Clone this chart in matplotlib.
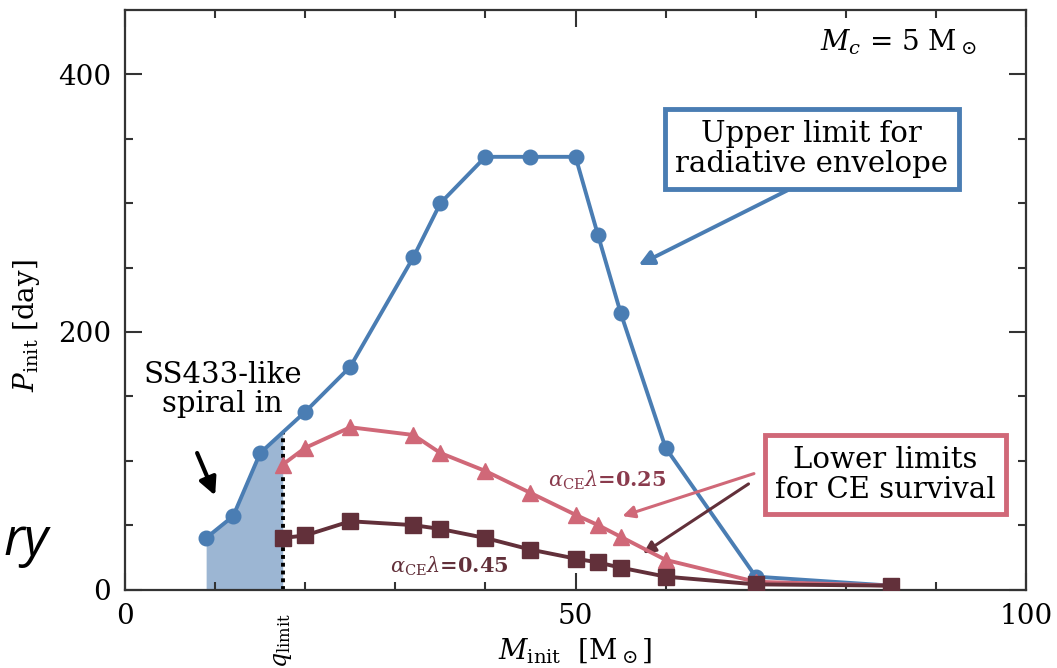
import numpy as np
import matplotlib.pyplot as plt
from matplotlib.transforms import blended_transform_factory

plt.rcParams['font.family'] = ['DejaVu Serif']
plt.rcParams['mathtext.fontset'] = 'dejavuserif'

# Upper limit for a radiative envelope (circles)
m_upper = [9, 12, 15, 20, 25, 32, 35, 40, 45, 50, 52.5, 55, 60, 70, 85]
p_upper = [40, 57, 106, 138, 173, 258, 300, 336, 336, 336, 275, 215, 110, 10, 3]

# Lower limits for CE survival
m_ce = [17.5, 20, 25, 32, 35, 40, 45, 50, 52.5, 55, 60, 70, 85]
p_ce025 = [97, 110, 126, 120, 106, 92, 75, 58, 50, 41, 23, 6, 3]
p_ce045 = [40, 42, 53, 50, 47, 40, 31, 24, 21, 17, 10, 4, 3]

q_limit = 17.5

blue = '#4a7db3'
pink = '#d06878'
maroon = '#62303a'

fig = plt.figure(figsize=(10.57, 6.68), dpi=100)
ax = fig.add_axes([0.1183, 0.1175, 0.8524, 0.8675])

# shaded SS433-like region below the upper curve
xs = np.linspace(m_upper[0], q_limit, 100)
ax.fill_between(xs, 0, np.interp(xs, m_upper, p_upper), color='#9cb6d3', lw=0, zorder=1)
ax.plot([q_limit, q_limit], [0, np.interp(q_limit, m_upper, p_upper)],
        color='black', ls=(0, (1, 1)), lw=2.8, zorder=2)

ax.plot(m_upper, p_upper, '-o', color=blue, lw=2.8, ms=10.5, zorder=3)
ax.plot(m_ce, p_ce025, '-^', color=pink, lw=2.8, ms=11, zorder=4)
ax.plot(m_ce, p_ce045, '-s', color=maroon, lw=2.8, ms=11.5, zorder=5)

ax.set_xlim(0, 100)
ax.set_ylim(0, 450)
ax.set_xticks([0, 50, 100])
ax.set_xticks(np.arange(10, 100, 10), minor=True)
ax.set_yticks([0, 200, 400])
ax.set_yticks(np.arange(50, 450, 50), minor=True)
ax.tick_params(which='both', direction='in', top=True, right=True,
               labelsize=20, colors='#333333', pad=10)
ax.tick_params(which='major', length=12, width=1.5)
ax.tick_params(which='minor', length=6, width=1.5)
for s in ax.spines.values():
    s.set_linewidth(1.6)
    s.set_color('#333333')
for t in ax.get_xticklabels() + ax.get_yticklabels():
    t.set_color('black')

ax.set_xlabel(r'$M_{\rm init}$  [M$_\odot$]', fontsize=20, labelpad=4)
ax.set_ylabel(r'$P_{\rm init}$ [day]', fontsize=20)
ax.yaxis.set_label_coords(-0.092, 0.456)

trans = blended_transform_factory(ax.transData, ax.transAxes)
ax.text(q_limit, -0.04, r'$q_{\rm limit}$', transform=trans, rotation=90,
        ha='center', va='top', fontsize=17)

ax.text(94.5, 425, r'$M_c$ = 5 M$_\odot$', ha='right', va='center', fontsize=20)

ax.annotate('Upper limit for\nradiative envelope', xy=(57, 252), xytext=(76.2, 342),
            ha='center', va='center', fontsize=21, linespacing=1.1,
            bbox=dict(boxstyle='square,pad=0.36', fc='white', ec=blue, lw=3.5),
            arrowprops=dict(arrowstyle='-|>', color=blue, lw=2.8, mutation_scale=22,
                            shrinkA=0, shrinkB=0, relpos=(0.5, 0)))

ax.annotate('', xy=(10, 73), xytext=(8, 106),
            arrowprops=dict(arrowstyle='-|>', color='black', lw=3, mutation_scale=26,
                            shrinkA=0, shrinkB=0))
ax.text(10.8, 155, 'SS433-like\nspiral in', ha='center', va='center', fontsize=21,
        linespacing=1.05)

ax.text(53.5, 85, r'$\alpha_{\rm CE}\lambda$=0.25', ha='center', va='center',
        fontsize=15, color='#8a3b4d', fontweight='bold')
ax.text(36, 18, r'$\alpha_{\rm CE}\lambda$=0.45', ha='center', va='center',
        fontsize=15, color=maroon, fontweight='bold')

ax.text(84.4, 89, 'Lower limits\nfor CE survival', ha='center', va='center',
        fontsize=21, linespacing=1.1,
        bbox=dict(boxstyle='square,pad=0.36', fc='white', ec=pink, lw=3.5), zorder=6)
ax.annotate('', xy=(55.2, 57), xytext=(69.8, 90),
            arrowprops=dict(arrowstyle='-|>', color=pink, lw=2.2, mutation_scale=18,
                            shrinkA=0, shrinkB=0))
ax.annotate('', xy=(57.5, 28), xytext=(69.2, 82),
            arrowprops=dict(arrowstyle='-|>', color=maroon, lw=2.2, mutation_scale=18,
                            shrinkA=0, shrinkB=0))

fig.text(0.003, 0.169, 'ry', fontsize=38, style='italic', family='Open Sans',
         va='baseline', ha='left')

fig.savefig('out.png', dpi=100)
